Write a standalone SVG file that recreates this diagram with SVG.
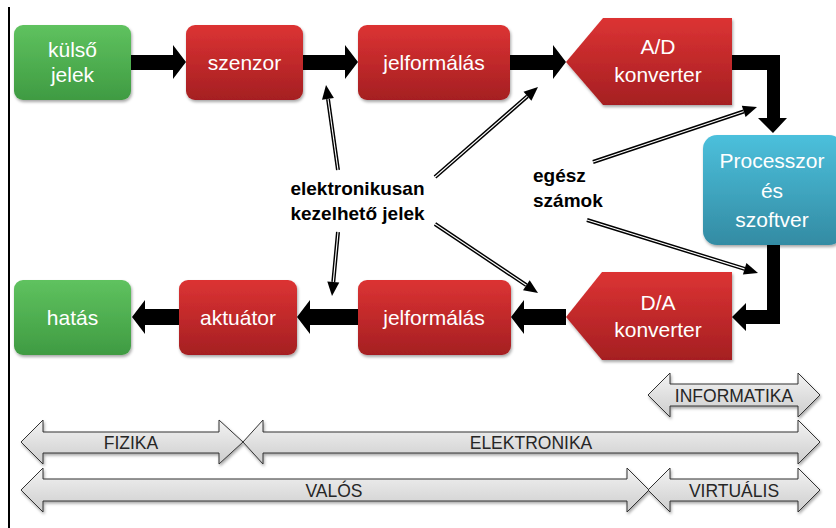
<svg xmlns="http://www.w3.org/2000/svg" width="836" height="528" viewBox="0 0 836 528">
<defs>
  <linearGradient id="gGreen" x1="0" y1="0" x2="0" y2="1"><stop offset="0" stop-color="#5fc25f"/><stop offset="1" stop-color="#3f9b42"/></linearGradient>
  <linearGradient id="gRed" x1="0" y1="0" x2="0" y2="1"><stop offset="0" stop-color="#dc3333"/><stop offset="1" stop-color="#a51f22"/></linearGradient>
  <linearGradient id="gBlue" x1="0" y1="0" x2="0" y2="1"><stop offset="0" stop-color="#4cc0dc"/><stop offset="1" stop-color="#338ba3"/></linearGradient>
  <linearGradient id="gGray" x1="0" y1="0" x2="0" y2="1"><stop offset="0" stop-color="#f3f3f3"/><stop offset="1" stop-color="#cdcdcd"/></linearGradient>
  <filter id="sh" x="-10%" y="-10%" width="125%" height="130%"><feDropShadow dx="1" dy="2" stdDeviation="1.8" flood-color="#000" flood-opacity="0.35"/></filter>
</defs>
<style>
  .nt{font-family:"Liberation Sans",Arial,sans-serif;font-size:21px;fill:#fff;text-anchor:middle}
  .lb{font-family:"Liberation Sans",Arial,sans-serif;font-size:19px;font-weight:bold;fill:#000}
  .bt{font-family:"Liberation Sans",Arial,sans-serif;font-size:17.5px;fill:#262626;text-anchor:middle}
  .green{fill:url(#gGreen);filter:url(#sh)}
  .red{fill:url(#gRed);filter:url(#sh)}
  .blue{fill:url(#gBlue);filter:url(#sh)}
  .band{fill:url(#gGray);stroke:#333;stroke-width:1;filter:url(#sh)}
  .thick{fill:#000}
  .dl{stroke:#000;stroke-width:4;fill:none}
  .dw{stroke:#fff;stroke-width:1.1;fill:none}
  .ah{fill:#000}
</style>
<rect x="0" y="0" width="836" height="528" fill="#fff"/>
<line x1="9" y1="7" x2="9" y2="528" stroke="#000" stroke-width="2"/>

<g id="connectors">
  <polygon class="thick" points="131,55 173,55 173,45 186,62 173,79 173,70 131,70"/>
  <polygon class="thick" points="303,55 345,55 345,45 358,62 345,79 345,70 303,70"/>
  <polygon class="thick" points="510,55 553,55 553,45 566,62 553,79 553,70 510,70"/>
  <polygon class="thick" points="732,55 780,55 780,118 787,118 773,133 758,118 767,118 767,70 732,70"/>
  <polygon class="thick" points="767,244 780,244 780,324 746,324 746,331 732,317 746,303 746,310 767,310"/>
  <polygon class="thick" points="566,309 524,309 524,300 511,317 524,334 524,325 566,325"/>
  <polygon class="thick" points="358,309 310,309 310,300 297,317 310,334 310,325 358,325"/>
  <polygon class="thick" points="179,309 145,309 145,300 132,317 145,334 145,325 179,325"/>

  <line class="dl" x1="338" y1="170" x2="328" y2="99"/><line class="dw" x1="338" y1="170" x2="328" y2="99"/>
  <polygon class="ah" points="326,85 333.9,98 322,99.7"/>
  <line class="dl" x1="435" y1="177" x2="527.5" y2="96.2"/><line class="dw" x1="435" y1="177" x2="527.5" y2="96.2"/>
  <polygon class="ah" points="538,87 531.4,100.7 523.5,91.7"/>
  <line class="dl" x1="338" y1="232" x2="333.3" y2="282"/><line class="dw" x1="338" y1="232" x2="333.3" y2="282"/>
  <polygon class="ah" points="332,296 339.3,282.6 327.3,281.5"/>
  <line class="dl" x1="435" y1="224" x2="526.4" y2="285.2"/><line class="dw" x1="435" y1="224" x2="526.4" y2="285.2"/>
  <polygon class="ah" points="538,293 523,290.2 529.7,280.2"/>
  <line class="dl" x1="593" y1="162" x2="743.7" y2="111.5"/><line class="dw" x1="593" y1="162" x2="743.7" y2="111.5"/>
  <polygon class="ah" points="757,107 745.6,117.1 741.8,105.8"/>
  <line class="dl" x1="587" y1="220" x2="744.6" y2="268.9"/><line class="dw" x1="587" y1="220" x2="744.6" y2="268.9"/>
  <polygon class="ah" points="758,273 742.9,274.6 746.4,263.1"/>
</g>

<g id="kulso-jelek"><rect class="green" x="14" y="25" width="117" height="75" rx="9"/>
  <text class="nt" x="72.5" y="57">külső</text><text class="nt" x="72.5" y="82">jelek</text></g>
<g id="szenzor"><rect class="red" x="186" y="25" width="117" height="75" rx="9"/>
  <text class="nt" x="244.5" y="70">szenzor</text></g>
<g id="jelformalas-1"><rect class="red" x="358" y="25" width="152" height="75" rx="9"/>
  <text class="nt" x="434" y="70">jelformálás</text></g>
<g id="ad-konverter"><polygon class="red" points="566,62 603,18 732,18 732,105 603,105"/>
  <text class="nt" x="658" y="54">A/D</text><text class="nt" x="658" y="82">konverter</text></g>
<g id="processzor"><rect class="blue" x="703" y="135" width="140" height="110" rx="14"/>
  <text class="nt" x="772" y="168">Processzor</text><text class="nt" x="772" y="198">és</text><text class="nt" x="772" y="227">szoftver</text></g>
<g id="da-konverter"><polygon class="red" points="566,317 602,272 732,272 732,360 602,360"/>
  <text class="nt" x="658" y="310">D/A</text><text class="nt" x="658" y="337">konverter</text></g>
<g id="jelformalas-2"><rect class="red" x="358" y="280" width="153" height="75" rx="9"/>
  <text class="nt" x="434" y="325">jelformálás</text></g>
<g id="aktuator"><rect class="red" x="179" y="280" width="118" height="75" rx="9"/>
  <text class="nt" x="238" y="325">aktuátor</text></g>
<g id="hatas"><rect class="green" x="14" y="280" width="117" height="75" rx="9"/>
  <text class="nt" x="72.5" y="325">hatás</text></g>

<g id="label-elektronikusan">
  <text class="lb" x="357.5" y="195" text-anchor="middle">elektronikusan</text>
  <text class="lb" x="357.5" y="220" text-anchor="middle">kezelhető jelek</text>
</g>
<g id="label-egesz">
  <text class="lb" x="533" y="182">egész</text>
  <text class="lb" x="533" y="207">számok</text>
</g>

<g id="band-informatika"><polygon class="band" points="648,395 670,373 670,384 798,384 798,373 820,395 798,417 798,406 670,406 670,417"/>
  <text class="bt" x="734" y="402">INFORMATIKA</text></g>
<g id="band-fizika"><polygon class="band" points="21,442 43,420 43,432 219,432 219,420 243,442 219,464 219,453 43,453 43,464"/>
  <text class="bt" x="131" y="449">FIZIKA</text></g>
<g id="band-elektronika"><polygon class="band" points="243,442 263,420 263,432 798,432 798,420 820,442 798,464 798,453 263,453 263,464"/>
  <text class="bt" x="531" y="449">ELEKTRONIKA</text></g>
<g id="band-valos"><polygon class="band" points="21,490 43,468 43,479 627,479 627,468 649,490 627,512 627,501 43,501 43,512"/>
  <text class="bt" x="334" y="497">VALÓS</text></g>
<g id="band-virtualis"><polygon class="band" points="648,490 670,468 670,479 798,479 798,468 820,490 798,512 798,501 670,501 670,512"/>
  <text class="bt" x="734" y="497">VIRTUÁLIS</text></g>
</svg>
